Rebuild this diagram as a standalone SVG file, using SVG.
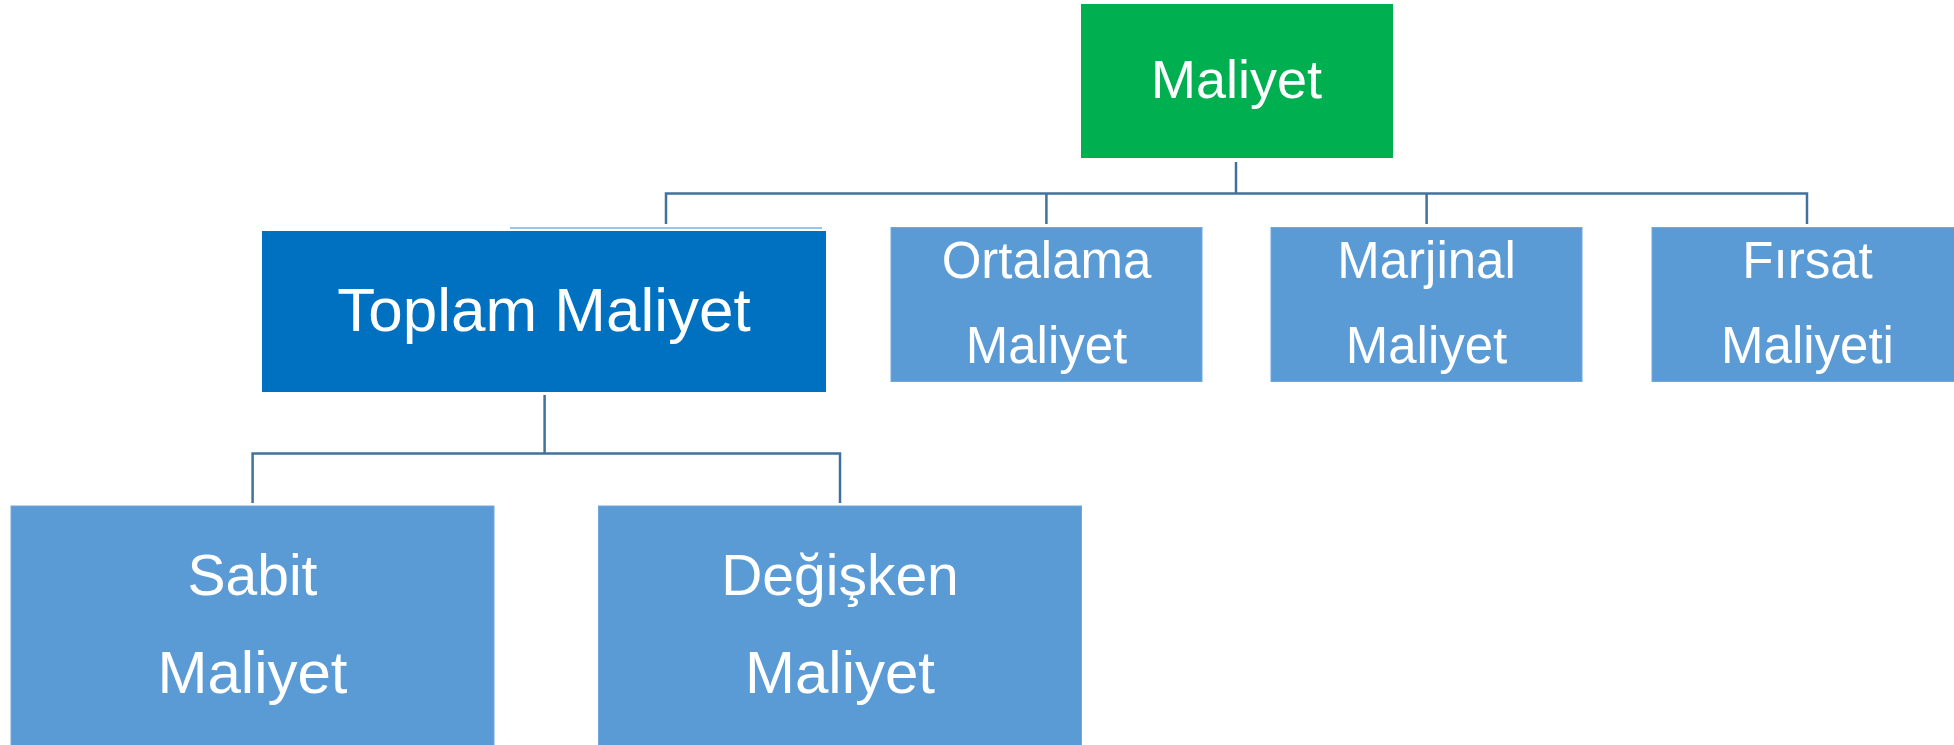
<svg xmlns="http://www.w3.org/2000/svg" width="1954" height="745" viewBox="0 0 1954 745">
<style>
.t{font-family:"Liberation Sans",Arial,sans-serif;fill:#fff;text-anchor:middle}
.s{font-size:51px}
.m{font-size:57px}
.l{font-size:54px}
.c{stroke:#41719C;stroke-width:2.5;fill:none}
.box{fill:#5B9BD5;stroke:#6FA8DC;stroke-width:1}
</style>
<rect width="1954" height="745" fill="#fff"/>
<g id="connectors">
<path class="c" d="M1236 162V193.5M666 224V193.5H1807V224M1046.4 193.5V224M1426.6 193.5V224"/>
<path class="c" d="M544.6 395V453.5M252.6 503V453.5H840V503"/>
<line x1="510" y1="228" x2="822" y2="228" stroke="#9DC3E6" stroke-width="2"/>
</g>
<g id="maliyet">
<rect x="1081" y="4" width="312" height="154" fill="#00B050"/>
<text class="t l" x="1236.5" y="98">Maliyet</text>
</g>
<g id="toplam">
<rect x="262" y="231" width="564" height="161" fill="#0070C0"/>
<text class="t" style="font-size:62px" x="544" y="331">Toplam Maliyet</text>
</g>
<g id="ortalama">
<rect class="box" x="891" y="227.5" width="311" height="154"/>
<text class="t s" x="1046.5" y="278">Ortalama</text>
<text class="t s" x="1046.5" y="363">Maliyet</text>
</g>
<g id="marjinal">
<rect class="box" x="1271" y="227.5" width="311" height="154"/>
<text class="t s" x="1426.5" y="278">Marjinal</text>
<text class="t s" x="1426.5" y="363">Maliyet</text>
</g>
<g id="firsat">
<rect class="box" x="1652" y="227.5" width="311" height="154"/>
<text class="t s" x="1807.5" y="278">Fırsat</text>
<text class="t s" x="1807.5" y="363">Maliyeti</text>
</g>
<g id="sabit">
<rect class="box" x="11" y="506" width="483" height="245"/>
<text class="t m" x="252.5" y="595">Sabit</text>
<text class="t" style="font-size:60px" x="252.5" y="693">Maliyet</text>
</g>
<g id="degisken">
<rect class="box" x="598.5" y="506" width="483" height="245"/>
<text class="t m" x="840" y="595">Değişken</text>
<text class="t" style="font-size:60px" x="840" y="693">Maliyet</text>
</g>
</svg>
